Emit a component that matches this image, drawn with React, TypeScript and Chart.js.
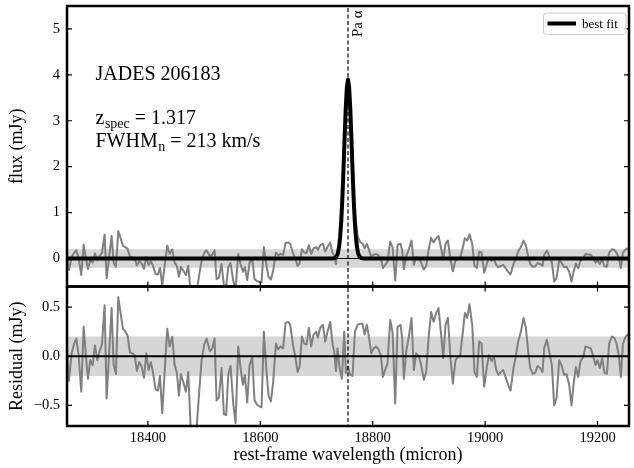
import React, { useEffect, useRef } from 'react';
import { Chart, registerables } from 'chart.js';

Chart.register(...registerables);

// ---------------- data ----------------
const wavelength = [
  18254.7, 18259.5, 18264.2, 18268.4, 18272.5, 18276.7, 18281.4, 18285.6, 18289.7, 18293.3,
  18297.4, 18301.6, 18305.7, 18309.9, 18314.0, 18318.2, 18322.9, 18326.5, 18335.4, 18339.0,
  18343.1, 18347.2, 18351.4, 18355.5, 18359.7, 18363.8, 18368.0, 18372.1, 18376.3, 18380.4,
  18384.6, 18388.7, 18392.9, 18397.1, 18401.2, 18405.4, 18409.5, 18413.7, 18417.8, 18421.4,
  18425.5, 18429.7, 18434.4, 18438.6, 18443.3, 18447.5, 18451.6, 18455.2, 18458.7, 18462.8,
  18467.6, 18471.7, 18475.9, 18480.0, 18484.8, 18490.7, 18495.4, 18500.2, 18504.3, 18510.3,
  18514.4, 18518.6, 18522.1, 18526.3, 18531.0, 18535.2, 18539.3, 18542.9, 18547.0, 18551.8,
  18555.9, 18560.7, 18564.8, 18569.0, 18572.5, 18576.7, 18580.8, 18585.6, 18589.7, 18593.9,
  18598.0, 18602.2, 18606.3, 18610.5, 18614.6, 18618.8, 18622.9, 18627.7, 18631.8, 18636.0,
  18640.7, 18644.9, 18649.6, 18653.2, 18658.0, 18662.1, 18666.3, 18669.8, 18674.0, 18678.1,
  18682.3, 18686.4, 18690.6, 18694.7, 18699.5, 18702.5, 18706.6, 18711.3, 18715.5, 18719.6,
  18724.4, 18728.5, 18731.5, 18734.5, 18737.4, 18741.0, 18745.1, 18749.3, 18752.3, 18755.8,
  18760.0, 18764.1, 18768.3, 18773.0, 18777.8, 18781.9, 18785.5, 18789.6, 18794.4, 18797.3,
  18801.5, 18805.6, 18810.4, 18814.5, 18818.1, 18822.2, 18826.4, 18831.1, 18835.3, 18840.0,
  18844.2, 18849.5, 18852.4, 18855.4, 18859.5, 18864.3, 18869.0, 18873.2, 18877.3, 18882.1,
  18886.2, 18891.0, 18895.1, 18899.9, 18904.0, 18908.2, 18912.9, 18917.1, 18921.2, 18925.4,
  18929.5, 18933.7, 18938.4, 18942.6, 18947.3, 18951.5, 18955.6, 18960.4, 18963.9, 18968.1,
  18972.2, 18977.0, 18981.1, 18985.3, 18989.4, 18993.6, 18998.3, 19003.1, 19006.6, 19011.4,
  19015.5, 19019.7, 19023.8, 19028.0, 19032.1, 19036.3, 19041.0, 19045.2, 19050.5, 19054.7,
  19058.8, 19063.6, 19068.3, 19072.5, 19076.6, 19080.2, 19084.9, 19089.1, 19093.2, 19098.0,
  19102.1, 19105.1, 19109.8, 19114.0, 19118.7, 19122.9, 19127.0, 19131.8, 19135.9, 19140.7,
  19144.8, 19149.6, 19153.7, 19157.3, 19161.4, 19165.6, 19169.7, 19174.5, 19178.6, 19183.4,
  19188.1, 19192.3, 19196.4, 19200.0, 19204.1, 19208.3, 19212.4, 19216.6, 19220.7, 19225.5,
  19229.6, 19233.8, 19237.9, 19241.5, 19245.0, 19249.2, 19253.3, 19257.0,
];

const residual = [
  0.16, -0.25, 0.03, 0.12, 0.18, 0.01, -0.36, 0.30, 0.00, -0.23,
  -0.04, -0.09, 0.11, -0.04, 0.05, 0.12, 0.52, -0.43, 0.49, -0.09,
  -0.18, 0.60, 0.44, 0.28, 0.25, 0.21, 0.04, 0.03, 0.01, -0.15,
  -0.06, -0.10, -0.22, 0.03, -0.14, -0.06, -0.18, -0.34, -0.35, -0.20,
  -0.58, -0.16, 0.28, 0.10, 0.20, -0.09, -0.17, -0.40, -0.18, -0.26,
  -0.36, -0.16, -0.71, -0.90, -0.88, -0.40, -0.05, 0.12, 0.18, 0.05,
  0.08, 0.18, -0.45, -0.42, -0.12, -0.59, -0.60, -0.19, -0.10, -0.48,
  -0.68, 0.10, -0.12, -0.29, -0.19, -0.47, -0.09, -0.01, -0.45, -0.49,
  -0.51, -0.52, 0.25, -0.12, -0.40, -0.46, -0.26, 0.13, 0.07, 0.10,
  0.08, 0.34, 0.35, 0.32, 0.12, 0.00, -0.16, -0.11, 0.20, 0.13,
  0.12, 0.29, 0.10, 0.22, 0.25, 0.19, 0.29, 0.32, 0.15, 0.25,
  0.35, 0.12, 0.05, -0.15, 0.08, -0.12, -0.23, 0.25, -0.17, -0.11,
  -0.19, -0.20, 0.25, 0.32, 0.33, 0.33, 0.22, 0.32, 0.15, 0.03,
  0.08, 0.10, 0.07, 0.01, -0.21, -0.14, -0.07, 0.37, 0.24, -0.48,
  0.30, 0.32, 0.18, -0.23, 0.05, 0.20, 0.39, -0.14, 0.03, 0.00,
  -0.09, -0.24, -0.16, 0.22, 0.45, 0.35, 0.44, 0.49, 0.25, -0.02,
  0.32, 0.39, -0.02, -0.28, -0.04, -0.01, 0.01, 0.25, 0.44, 0.39,
  0.53, 0.32, -0.16, -0.21, 0.15, 0.13, -0.31, -0.11, 0.01, -0.05,
  0.00, -0.14, -0.19, -0.16, -0.14, -0.21, -0.29, -0.35, -0.12, 0.00,
  0.15, 0.25, 0.39, 0.29, 0.05, -0.12, -0.18, -0.17, -0.10, -0.12,
  -0.16, 0.08, 0.17, 0.05, -0.09, -0.50, -0.43, -0.04, -0.09, -0.19,
  -0.18, -0.29, -0.50, -0.29, -0.11, -0.21, -0.05, -0.01, 0.10, 0.09,
  0.08, 0.00, -0.09, -0.04, -0.12, -0.02, -0.17, -0.18, 0.13, 0.20,
  0.19, 0.13, 0.01, -0.21, 0.12, 0.19, 0.22, 0.20,
];

// observed flux inside the emission line (elsewhere flux equals the residual)
const lineFluxWave = [18731.5, 18734.5, 18737.4, 18741.0, 18745.1, 18749.3, 18752.3, 18755.8, 18760.0, 18764.1, 18768.3, 18773.0, 18777.8];
const lineFluxValue = [0.06, -0.12, 0.17, 0.22, 0.85, 2.65, 3.19, 3.79, 3.09, 1.72, 1.01, 0.49, 0.35];

// best-fit model
const modelWave = [
  18256, 18728, 18730, 18732, 18734, 18736, 18738, 18740, 18742, 18744, 18746, 18748, 18750, 18752, 18754,
  18756, 18758, 18760, 18762, 18764, 18766, 18768, 18770, 18772, 18774, 18776, 18778, 18780, 18782, 18784, 19256,
];
const modelFlux = [
  0, 0, 0.003, 0.008, 0.021, 0.052, 0.117, 0.245, 0.47, 0.82, 1.32, 1.95, 2.64, 3.28, 3.73,
  3.9, 3.73, 3.28, 2.64, 1.95, 1.32, 0.82, 0.47, 0.245, 0.117, 0.052, 0.021, 0.008, 0.003, 0, 0,
];

const paAlphaWave = 18756;
const noiseLevel = 0.2;
const xRange = [18256, 19256];
const fluxRange = [-0.61, 5.5];
const residRange = [-0.71, 0.71];
const xTickValues = [18400, 18600, 18800, 19000, 19200];
const fluxTickValues = [0, 1, 2, 3, 4, 5];
const fluxTickLabels = ['0', '1', '2', '3', '4', '5'];
const residTickValues = [-0.5, 0, 0.5];
const residTickLabels = ['\u22120.5', '0.0', '0.5'];

const objectName = 'JADES 206183';
const zSpec = '1.317';
const fwhmText = '213 km/s';
const legendLabel = 'best fit';
const lineLabel = 'Pa \u03b1';

// ---------------- helpers ----------------
const SERIF = "'Liberation Serif', 'Times New Roman', Times, serif";
const TICK = 5;

const flux = wavelength.map((w, i) => {
  const k = lineFluxWave.indexOf(w);
  return k >= 0 ? lineFluxValue[k] : residual[i];
});

function decorPlugin(id: string, yTicks: number[], topTicks: boolean, extra?: (ctx: CanvasRenderingContext2D, chart: any) => void) {
  return {
    id,
    afterDraw(chart: any) {
      const { ctx, chartArea: a, scales } = chart;
      const xs = scales.x;
      const ys = scales.y;
      ctx.save();
      ctx.strokeStyle = '#000';
      ctx.lineWidth = 1.2;
      ctx.beginPath();
      for (const v of xTickValues) {
        const px = xs.getPixelForValue(v);
        ctx.moveTo(px, a.bottom);
        ctx.lineTo(px, a.bottom - TICK);
        if (topTicks) {
          ctx.moveTo(px, a.top);
          ctx.lineTo(px, a.top + TICK);
        }
      }
      for (const v of yTicks) {
        const py = ys.getPixelForValue(v);
        ctx.moveTo(a.left, py);
        ctx.lineTo(a.left + TICK, py);
        ctx.moveTo(a.right, py);
        ctx.lineTo(a.right - TICK, py);
      }
      ctx.stroke();
      ctx.lineWidth = 2.5;
      ctx.strokeRect(a.left, a.top, a.right - a.left, a.bottom - a.top);
      if (extra) extra(ctx, chart);
      ctx.restore();
    },
  };
}

function drawTopExtras(ctx: CanvasRenderingContext2D, chart: any) {
  const xs = chart.scales.x;
  ctx.fillStyle = '#000';
  ctx.textBaseline = 'alphabetic';
  ctx.textAlign = 'left';

  // annotation text
  ctx.font = `20px ${SERIF}`;
  ctx.fillText(objectName, 95.5, 80);

  let x = 95.5;
  ctx.font = `20px ${SERIF}`;
  ctx.fillText('z', x, 124);
  x += ctx.measureText('z').width + 0.5;
  ctx.font = `14px ${SERIF}`;
  ctx.fillText('spec', x, 127.5);
  x += ctx.measureText('spec').width;
  ctx.font = `20px ${SERIF}`;
  ctx.fillText(' = ' + zSpec, x, 124);

  x = 95.5;
  ctx.fillText('FWHM', x, 147);
  x += ctx.measureText('FWHM').width + 0.5;
  ctx.font = `14px ${SERIF}`;
  ctx.fillText('n', x, 150.5);
  x += ctx.measureText('n').width;
  ctx.font = `20px ${SERIF}`;
  ctx.fillText(' = ' + fwhmText, x, 147);

  // Pa alpha label (rotated)
  const lx = xs.getPixelForValue(paAlphaWave);
  ctx.save();
  ctx.translate(lx + 14, 37);
  ctx.rotate(-Math.PI / 2);
  ctx.font = `15px ${SERIF}`;
  ctx.fillText(lineLabel, 0, 0);
  ctx.restore();

  // legend
  const bx = 543.5, by = 13, bw = 82.5, bh = 21.5;
  ctx.beginPath();
  if ((ctx as any).roundRect) (ctx as any).roundRect(bx, by, bw, bh, 3);
  else ctx.rect(bx, by, bw, bh);
  ctx.fillStyle = 'rgba(255,255,255,0.8)';
  ctx.fill();
  ctx.strokeStyle = '#cccccc';
  ctx.lineWidth = 1;
  ctx.stroke();
  ctx.beginPath();
  ctx.strokeStyle = '#000';
  ctx.lineWidth = 4;
  ctx.moveTo(547.5, 23.5);
  ctx.lineTo(576, 23.5);
  ctx.stroke();
  ctx.fillStyle = '#000';
  ctx.font = `13px ${SERIF}`;
  ctx.fillText(legendLabel, 582, 28);
}

export default function App() {
  const topRef = useRef<HTMLCanvasElement>(null);
  const botRef = useRef<HTMLCanvasElement>(null);

  useEffect(() => {
    const pts = (xs: number[], ys: number[]) => xs.map((x, i) => ({ x, y: ys[i] }));
    const hline = (y: number) => [{ x: xRange[0], y }, { x: xRange[1], y }];
    const vline = (lo: number, hi: number) => [{ x: paAlphaWave, y: lo }, { x: paAlphaWave, y: hi }];

    const yAxisCommon = (min: number, max: number, vals: number[], labels: string[], title: string) => ({
      type: 'linear' as const,
      min,
      max,
      afterFit: (s: any) => {
        s.width = 67;
        s.paddingTop = 0;
        s.paddingBottom = 0;
      },
      afterBuildTicks: (s: any) => { s.ticks = vals.map((v) => ({ value: v })); },
      grid: { display: false, drawTicks: false },
      border: { display: false },
      ticks: {
        autoSkip: false,
        padding: 7,
        color: '#000',
        font: { family: SERIF, size: 14.5 },
        callback: (v: any) => {
          const k = vals.indexOf(Number(v));
          return k >= 0 ? labels[k] : '';
        },
      },
      title: {
        display: true,
        text: title,
        color: '#000',
        font: { family: SERIF, size: 18 },
        padding: { top: 6, bottom: 0 },
      },
    });

    const lineEl = { tension: 0, borderJoinStyle: 'round' as const };

    const top = new Chart(topRef.current as HTMLCanvasElement, {
      type: 'line',
      data: {
        datasets: [
          { data: pts(modelWave, modelFlux), borderColor: '#000', borderWidth: 4, pointRadius: 0, order: 0 } as any,
          { data: vline(-1, 6), borderColor: '#000', borderWidth: 1.2, borderDash: [4, 2.5], pointRadius: 0, order: 1 },
          { data: hline(0), borderColor: '#000', borderWidth: 1, pointRadius: 0, order: 2 },
          { data: pts(wavelength, flux), borderColor: '#808080', borderWidth: 2, pointRadius: 0, order: 3 },
          {
            data: hline(noiseLevel), borderColor: 'transparent', borderWidth: 0, pointRadius: 0,
            backgroundColor: '#d6d6d6', fill: { value: -noiseLevel }, order: 4,
          },
        ],
      },
      options: {
        responsive: false,
        animation: false,
        devicePixelRatio: 1,
        layout: { padding: { left: 0, right: 5, top: 6, bottom: 3.5 } },
        plugins: { legend: { display: false }, tooltip: { enabled: false } },
        elements: { line: lineEl },
        scales: {
          x: { type: 'linear', min: xRange[0], max: xRange[1], display: false },
          y: yAxisCommon(fluxRange[0], fluxRange[1], fluxTickValues, fluxTickLabels, 'flux (mJy)'),
        },
      },
      plugins: [decorPlugin('topDecor', fluxTickValues, false, drawTopExtras)],
    } as any);

    const bot = new Chart(botRef.current as HTMLCanvasElement, {
      type: 'line',
      data: {
        datasets: [
          { data: vline(-1, 1), borderColor: '#000', borderWidth: 1.2, borderDash: [4, 2.5], pointRadius: 0, order: 0 },
          { data: hline(0), borderColor: '#000', borderWidth: 2, pointRadius: 0, order: 1 },
          { data: pts(wavelength, residual), borderColor: '#808080', borderWidth: 2, pointRadius: 0, order: 2 },
          {
            data: hline(noiseLevel), borderColor: 'transparent', borderWidth: 0, pointRadius: 0,
            backgroundColor: '#d6d6d6', fill: { value: -noiseLevel }, order: 3,
          },
        ],
      },
      options: {
        responsive: false,
        animation: false,
        devicePixelRatio: 1,
        layout: { padding: { left: 0, right: 5, top: 2.5, bottom: 0 } },
        plugins: { legend: { display: false }, tooltip: { enabled: false } },
        elements: { line: lineEl },
        scales: {
          x: {
            type: 'linear',
            min: xRange[0],
            max: xRange[1],
            afterFit: (s: any) => {
              s.height = 42;
              s.paddingLeft = 0;
              s.paddingRight = 0;
            },
            afterBuildTicks: (s: any) => { s.ticks = xTickValues.map((v) => ({ value: v })); },
            grid: { display: false, drawTicks: false },
            border: { display: false },
            ticks: {
              autoSkip: false,
              maxRotation: 0,
              padding: 3,
              color: '#000',
              font: { family: SERIF, size: 14.5 },
              callback: (v: any) => String(v),
            },
            title: {
              display: true,
              text: 'rest-frame wavelength (micron)',
              color: '#000',
              font: { family: SERIF, size: 18 },
              padding: { top: 0, bottom: 2 },
            },
          },
          y: yAxisCommon(residRange[0], residRange[1], residTickValues, residTickLabels, 'Residual (mJy)'),
        },
      },
      plugins: [decorPlugin('botDecor', residTickValues, true)],
    } as any);

    return () => {
      top.destroy();
      bot.destroy();
    };
  }, []);

  return (
    <div style={{ position: 'fixed', left: 0, top: 0, width: 634, height: 468, background: '#fff' }}>
      <canvas ref={topRef} width={634} height={290} style={{ position: 'absolute', left: 0, top: 0 }} />
      <canvas ref={botRef} width={634} height={184} style={{ position: 'absolute', left: 0, top: 284 }} />
    </div>
  );
}
